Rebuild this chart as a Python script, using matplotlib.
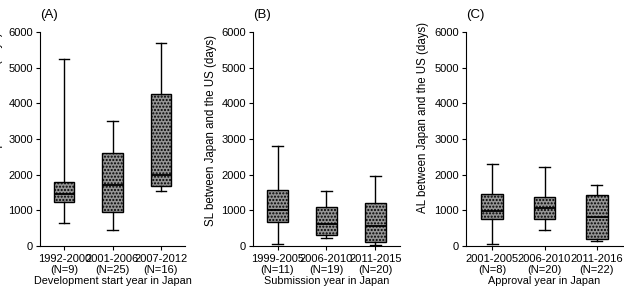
import matplotlib.pyplot as plt

plt.rcParams['font.family'] = ['Liberation Sans', 'DejaVu Sans']
plt.rcParams['font.size'] = 7

# panel data: (whisker low, Q1, median, Q3, whisker high)
a_labels = ['1992-2000\n(N=9)', '2001-2006\n(N=25)', '2007-2012\n(N=16)']
a_low = [640, 460, 1550]
a_q1 = [1220, 950, 1690]
a_med = [1470, 1700, 2000]
a_q3 = [1800, 2620, 4270]
a_high = [5250, 3500, 5680]

b_labels = ['1999-2005\n(N=11)', '2006-2010\n(N=19)', '2011-2015\n(N=20)']
b_low = [50, 220, 20]
b_q1 = [680, 310, 100]
b_med = [1000, 620, 560]
b_q3 = [1570, 1080, 1200]
b_high = [2800, 1540, 1960]

c_labels = ['2001-2005\n(N=8)', '2006-2010\n(N=20)', '2011-2016\n(N=22)']
c_low = [50, 440, 140]
c_q1 = [760, 770, 190]
c_med = [980, 1070, 820]
c_q3 = [1460, 1380, 1440]
c_high = [2300, 2210, 1720]

# title, ylabel, xlabel, data, axes x/width in px, ylabel position (axes coords)
panels = [
    ('(A)', 'DL between Japan and the US (days)', 'Development start year in Japan',
     a_labels, a_low, a_q1, a_med, a_q3, a_high, [40, 145], (-0.255, 0.55)),
    ('(B)', 'SL between Japan and the US (days)', 'Submission year in Japan',
     b_labels, b_low, b_q1, b_med, b_q3, b_high, [253, 147], (-0.245, 0.54)),
    ('(C)', 'AL between Japan and the US (days)', 'Approval year in Japan',
     c_labels, c_low, c_q1, c_med, c_q3, c_high, [466, 157], (-0.236, 0.60)),
]

W, H = 624, 288
fig = plt.figure(figsize=(W / 100, H / 100), dpi=100)

for title, ylab, xlab, labels, lo, q1, med, q3, hi, (x0, w), lpos in panels:
    ax = fig.add_axes([x0 / W, 42 / H, w / W, 214 / H])
    stats = []
    for i in range(3):
        stats.append({'whislo': lo[i], 'q1': q1[i], 'med': med[i],
                      'q3': q3[i], 'whishi': hi[i], 'fliers': []})
    ax.bxp(stats, positions=[1, 2, 3], widths=0.42, patch_artist=True,
           showfliers=False,
           boxprops=dict(facecolor='#959595', edgecolor='black', linewidth=1,
                         hatch='.....'),
           medianprops=dict(color='black', linewidth=1.3),
           whiskerprops=dict(color='black', linewidth=1),
           capprops=dict(color='black', linewidth=1))
    ax.set_xlim(0.5, 3.5)
    ax.set_ylim(0, 6000)
    ax.set_yticks([0, 1000, 2000, 3000, 4000, 5000, 6000])
    ax.set_xticks([1, 2, 3])
    ax.set_xticklabels(labels, linespacing=1.05)
    ax.tick_params(axis='both', length=3, width=0.8, pad=2, labelsize=8)
    ax.tick_params(axis='x', pad=3)
    for s in ['top', 'right']:
        ax.spines[s].set_visible(False)
    ax.spines['left'].set_linewidth(0.8)
    ax.spines['bottom'].set_linewidth(0.8)
    ax.set_xlabel(xlab, fontsize=7.8, labelpad=1)
    ax.set_ylabel(ylab, fontsize=8.3)
    ax.yaxis.set_label_coords(*lpos)
    ax.text(0.0, 1.05, title, transform=ax.transAxes, fontsize=9.5, va='bottom')

fig.savefig('out.png', dpi=100)
